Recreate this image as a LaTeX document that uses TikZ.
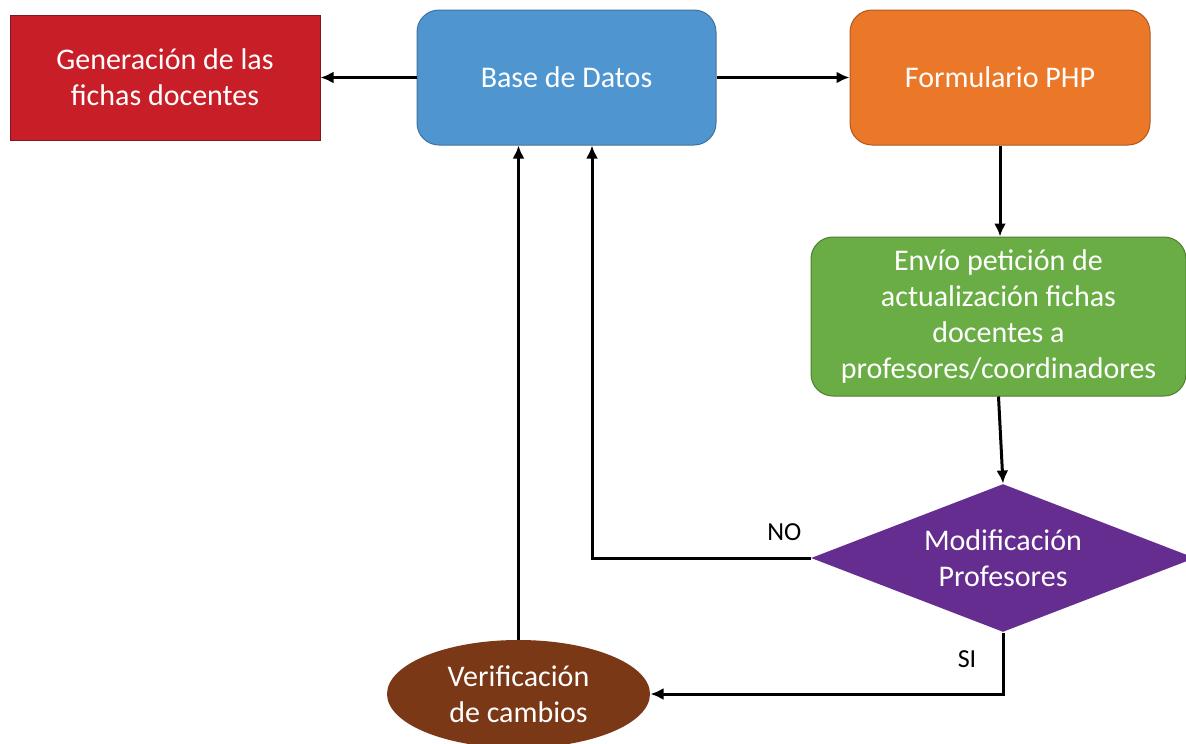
\documentclass[tikz,border=0pt]{standalone}
\usepackage{fontspec}
\setmainfont{Carlito}
\usetikzlibrary{arrows.meta,positioning,calc,shapes.geometric}

\definecolor{genred}{HTML}{C81E28}
\definecolor{genedge}{HTML}{7E1825}
\definecolor{dbblue}{HTML}{4F96D0}
\definecolor{dbedge}{HTML}{41719C}
\definecolor{phporange}{HTML}{EB7828}
\definecolor{phpedge}{HTML}{AE5A21}
\definecolor{sendgreen}{HTML}{6AAD45}
\definecolor{sendedge}{HTML}{507E32}
\definecolor{modpurple}{HTML}{662D91}
\definecolor{verifbrown}{HTML}{7A3817}

\begin{document}
\begin{tikzpicture}[x=1pt, y=-1pt,
  box/.style={align=center, text=white, font=\fontsize{30}{36}\selectfont, inner sep=0pt, line width=1pt},
  lbl/.style={font=\fontsize{26}{30}\selectfont, inner sep=0pt},
  arr/.style={-{Latex[length=13pt,width=12pt]}, line width=3pt}
]
\useasboundingbox (0,0) rectangle (1186,744);

% Top row
\node[box, draw=genedge, fill=genred, minimum width=310pt, minimum height=125pt] (gen) at (165,77.5) {Generación de las\\fichas docentes};
\node[box, draw=dbedge, fill=dbblue, rounded corners=22pt, minimum width=299pt, minimum height=135pt] (base) at (566.5,77.5) {Base de Datos};
\node[box, draw=phpedge, fill=phporange, rounded corners=22pt, minimum width=300pt, minimum height=135pt] (form) at (1000,77.5) {Formulario PHP};

% Right column
\node[box, draw=sendedge, fill=sendgreen, rounded corners=22pt, minimum width=375pt, minimum height=159pt] (envio) at (998.5,316.5) {Envío petición de\\actualización fichas\\docentes a\\profesores/coordinadores};
\node[box, diamond, fill=modpurple, aspect=2.6, minimum width=384pt, minimum height=148pt] (mod) at (1003,558) {Modificación\\Profesores};

% Bottom
\node[box, ellipse, fill=verifbrown, minimum width=263pt, minimum height=108pt] (verif) at (518.5,694) {Verificación\\de cambios};

\draw[arr] (base.west) -- (gen.east);
\draw[arr] (base.east) -- (form.west);
\draw[arr] (form.south) -- (form.south |- envio.north);
\draw[arr] (envio.south) -- (mod.north);
\draw[arr] (mod.west) -| ([xshift=25.5pt]base.south);
\draw[arr] (mod.south) |- (verif.east);
\draw[arr] (verif.north) -- (verif.north |- base.south);

\node[lbl, above left=17pt and 9pt of mod.west] (no) {NO};
\node[lbl] (si) at (967,659) {SI};

\end{tikzpicture}
\end{document}
